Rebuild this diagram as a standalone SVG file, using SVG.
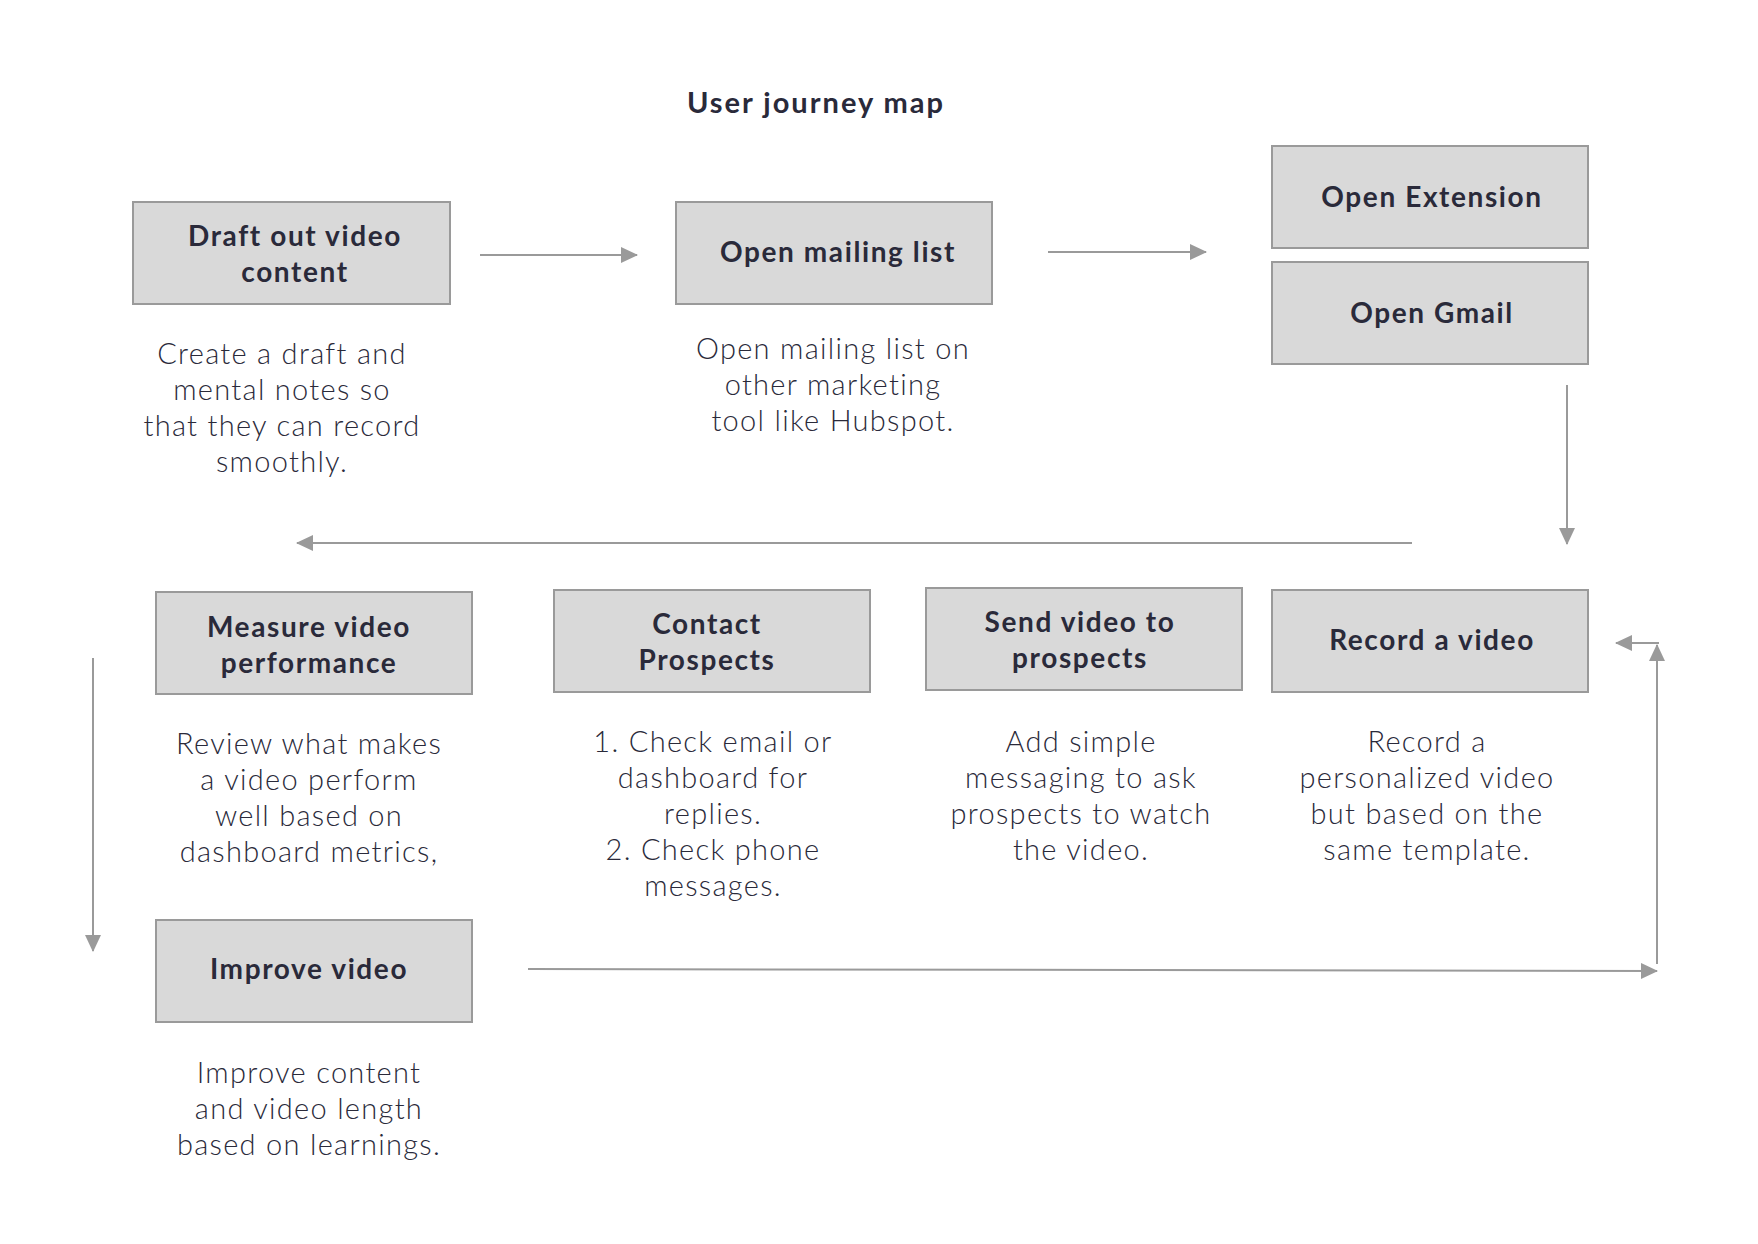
<svg xmlns="http://www.w3.org/2000/svg" width="1758" height="1244" viewBox="0 0 1758 1244">
<style>
.box{fill:#d9d9d9;stroke:#9a9a9a;stroke-width:2}
.t{font-family:Lato,"Open Sans","Liberation Sans",sans-serif;font-weight:700;font-size:28px;letter-spacing:1.6px;fill:#2a2a3a;text-anchor:middle}
.d{font-family:Lato,"Open Sans","Liberation Sans",sans-serif;font-weight:300;font-size:29px;letter-spacing:1.3px;fill:#2a2a3a;text-anchor:middle}
.c{fill:none;stroke:#9a9a9a;stroke-width:2}
</style>
<defs>
<marker id="ah" markerUnits="userSpaceOnUse" markerWidth="18" markerHeight="18" refX="16" refY="8" orient="auto">
<path d="M0,0 L17,8 L0,16 Z" fill="#9a9a9a"/>
</marker>
</defs>
<rect width="1758" height="1244" fill="#fff"/>
<text x="816" y="113" class="t" style="font-size:29px;letter-spacing:2px">User journey map</text>

<g id="draft">
<rect class="box" x="133" y="202" width="317" height="102"/>
<text class="t" x="295" y="246">Draft out video</text>
<text class="t" x="295" y="282">content</text>
<text class="d" x="282" y="364">Create a draft and</text>
<text class="d" x="282" y="400">mental notes so</text>
<text class="d" x="282" y="436">that they can record</text>
<text class="d" x="282" y="472">smoothly.</text>
</g>

<g id="mailing">
<rect class="box" x="676" y="202" width="316" height="102"/>
<text class="t" x="838" y="262">Open mailing list</text>
<text class="d" x="833" y="359">Open mailing list on</text>
<text class="d" x="833" y="395">other marketing</text>
<text class="d" x="833" y="431">tool like Hubspot.</text>
</g>

<g id="extension">
<rect class="box" x="1272" y="146" width="316" height="102"/>
<text class="t" x="1432" y="207">Open Extension</text>
</g>

<g id="gmail">
<rect class="box" x="1272" y="262" width="316" height="102"/>
<text class="t" x="1432" y="323">Open Gmail</text>
</g>

<g id="measure">
<rect class="box" x="156" y="592" width="316" height="102"/>
<text class="t" x="309" y="637">Measure video</text>
<text class="t" x="309" y="673">performance</text>
<text class="d" x="309" y="754">Review what makes</text>
<text class="d" x="309" y="790">a video perform</text>
<text class="d" x="309" y="826">well based on</text>
<text class="d" x="309" y="862">dashboard metrics,</text>
</g>

<g id="contact">
<rect class="box" x="554" y="590" width="316" height="102"/>
<text class="t" x="707" y="634">Contact</text>
<text class="t" x="707" y="670">Prospects</text>
<text class="d" x="713" y="752">1. Check email or</text>
<text class="d" x="713" y="788">dashboard for</text>
<text class="d" x="713" y="824">replies.</text>
<text class="d" x="713" y="860">2. Check phone</text>
<text class="d" x="713" y="896">messages.</text>
</g>

<g id="send">
<rect class="box" x="926" y="588" width="316" height="102"/>
<text class="t" x="1080" y="632">Send video to</text>
<text class="t" x="1080" y="668">prospects</text>
<text class="d" x="1081" y="752">Add simple</text>
<text class="d" x="1081" y="788">messaging to ask</text>
<text class="d" x="1081" y="824">prospects to watch</text>
<text class="d" x="1081" y="860">the video.</text>
</g>

<g id="record">
<rect class="box" x="1272" y="590" width="316" height="102"/>
<text class="t" x="1432" y="650">Record a video</text>
<text class="d" x="1427" y="752">Record a</text>
<text class="d" x="1427" y="788">personalized video</text>
<text class="d" x="1427" y="824">but based on the</text>
<text class="d" x="1427" y="860">same template.</text>
</g>

<g id="improve">
<rect class="box" x="156" y="920" width="316" height="102"/>
<text class="t" x="309" y="979">Improve video</text>
<text class="d" x="309" y="1083">Improve content</text>
<text class="d" x="309" y="1119">and video length</text>
<text class="d" x="309" y="1155">based on learnings.</text>
</g>

<g id="connectors">
<line class="c" x1="480" y1="255" x2="637" y2="255" marker-end="url(#ah)"/>
<line class="c" x1="1048" y1="252" x2="1206" y2="252" marker-end="url(#ah)"/>
<line class="c" x1="1567" y1="385" x2="1567" y2="544" marker-end="url(#ah)"/>
<line class="c" x1="1412" y1="543" x2="297" y2="543" marker-end="url(#ah)"/>
<line class="c" x1="93" y1="658" x2="93" y2="951" marker-end="url(#ah)"/>
<line class="c" x1="528" y1="969" x2="1657" y2="971" marker-end="url(#ah)"/>
<line class="c" x1="1657" y1="964" x2="1657" y2="645" marker-end="url(#ah)"/>
<line class="c" x1="1659" y1="643" x2="1616" y2="643" marker-end="url(#ah)"/>
</g>
</svg>
